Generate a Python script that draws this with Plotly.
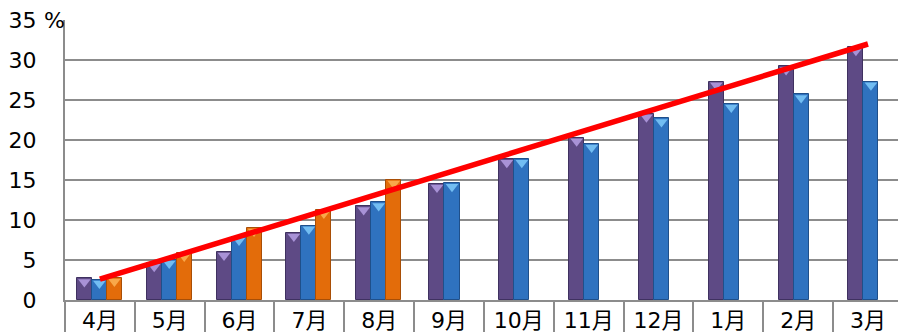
import plotly.graph_objects as go

months = ["4月", "5月", "6月", "7月", "8月", "9月", "10月", "11月", "12月", "1月", "2月", "3月"]
series_purple = [2.7, 4.6, 6.0, 8.4, 11.7, 14.5, 17.6, 20.3, 23.3, 27.3, 29.2, 31.6]
series_blue = [2.5, 5.0, 7.9, 9.3, 12.2, 14.6, 17.6, 19.5, 22.7, 24.5, 25.7, 27.3]
series_orange = [2.75, 5.9, 9.0, 11.25, 15.0, None, None, None, None, None, None, None]
trend_months = ["4月", "3月"]
trend_values = [2.6, 32.0]
y_ticks = [0, 5, 10, 15, 20, 25, 30, 35]

FONT = "'DejaVu Sans', 'Noto Sans CJK JP', sans-serif"
W = 0.215  # bar width in category units

xpos = list(range(len(months)))
off_p, off_b, off_o = [], [], []
for i in xpos:
    if series_orange[i] is not None:
        off_p.append(-0.33); off_b.append(-0.115); off_o.append(0.10)
    else:
        off_p.append(-0.28); off_b.append(-0.065); off_o.append(0.0)

fig = go.Figure()

def add_series(vals, offs, color, edge, light):
    xs = [x for x, v in zip(xpos, vals) if v is not None]
    ys = [v for v in vals if v is not None]
    os_ = [o for o, v in zip(offs, vals) if v is not None]
    fig.add_trace(go.Bar(x=xs, y=ys, offset=os_, width=W,
                         marker=dict(color=color, line=dict(color=edge, width=1)),
                         showlegend=False, hoverinfo="y"))
    fig.add_trace(go.Scatter(x=[x + o + W / 2 for x, o in zip(xs, os_)],
                             y=[v - 0.45 for v in ys], mode="markers",
                             marker=dict(symbol="triangle-down", size=11, color=light,
                                         line=dict(width=0)),
                             showlegend=False, hoverinfo="skip"))

add_series(series_purple, off_p, "#5E4A85", "#3F3160", "#A892D6")
add_series(series_blue, off_b, "#2F72BF", "#1F4F8A", "#72BDF2")
add_series(series_orange, off_o, "#E36C0A", "#A84E06", "#F8A84A")

fig.add_trace(go.Scatter(x=[months.index(m) for m in trend_months], y=trend_values,
                         mode="lines", line=dict(color="#FF0000", width=5.5),
                         showlegend=False, hoverinfo="skip"))

fig.update_layout(
    width=898, height=332,
    margin=dict(l=65, r=0, t=20, b=32),
    plot_bgcolor="white", paper_bgcolor="white",
    font=dict(family=FONT, size=22, color="#000000"),
    bargap=0,
    xaxis=dict(range=[-0.5, 11.43], tickmode="array", tickvals=xpos, ticktext=months,
               showgrid=False, zeroline=False, showline=True, linecolor="#8C8C8C", linewidth=2,
               ticks="", tickfont=dict(size=22),
               minor=dict(tickmode="array", tickvals=[i - 0.5 for i in range(13)],
                          ticks="outside", ticklen=34, tickcolor="#8C8C8C", tickwidth=1.5,
                          showgrid=False)),
    yaxis=dict(range=[0, 35], tickmode="array", tickvals=y_ticks,
               showgrid=True, gridcolor="#8C8C8C", gridwidth=2,
               zeroline=False, showline=True, linecolor="#8C8C8C", linewidth=2,
               ticks="", ticklabelstandoff=22, tickfont=dict(size=22)),
)

fig.add_annotation(text="%", xref="paper", yref="paper", x=-0.0125, y=1.0,
                   xanchor="center", yanchor="middle", showarrow=False,
                   font=dict(family=FONT, size=22, color="#000000"))

fig.write_html("out.html")
